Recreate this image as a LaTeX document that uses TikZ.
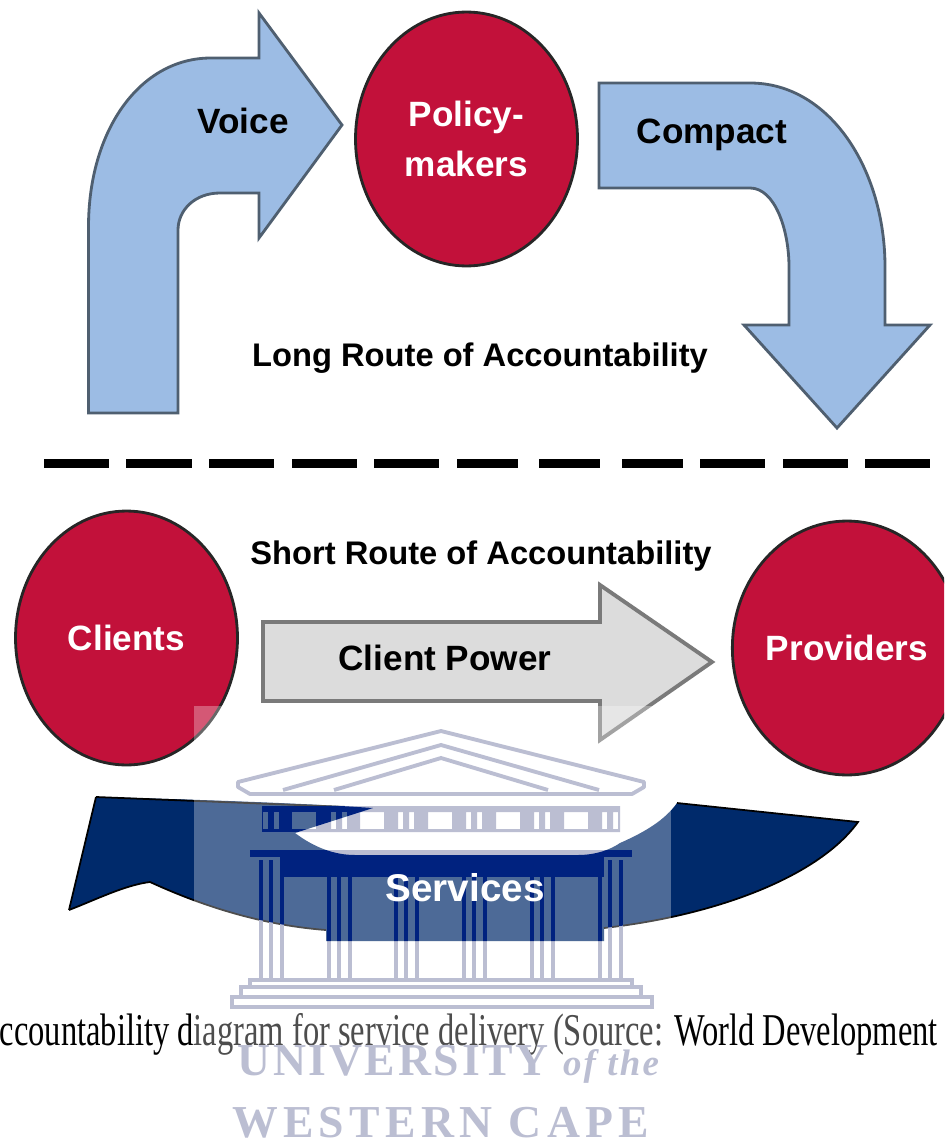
\documentclass[tikz,border=0pt]{standalone}
\usepackage{fontspec}
\setmainfont{Liberation Sans}
\newfontfamily\captionfont{Liberation Serif}
\newfontfamily\crestfont[LetterSpace=6]{Liberation Serif}
\newfontfamily\capefont[LetterSpace=11.5]{Liberation Serif}
\usetikzlibrary{shapes.geometric}
\definecolor{blobred}{HTML}{C2113A}
\definecolor{arrowblue}{HTML}{9CBCE4}
\definecolor{arrowedge}{HTML}{4F5F70}
\definecolor{powergrey}{HTML}{DCDCDC}
\definecolor{poweredge}{HTML}{7A7A7A}
\definecolor{navy}{HTML}{002A6B}
\definecolor{navyband}{HTML}{00227F}
\definecolor{crest}{HTML}{BBBED2}
\tikzset{
  redblob/.style={
    ellipse,
    draw=black!85, line width=1.6pt,
    fill=blobred,
    minimum width=4.44cm,
    minimum height=5.08cm,
    inner sep=0pt,
    text=white, align=center,
    font=\bfseries\fontsize{20}{28.5}\selectfont},
  bentarrow/.style={draw=arrowedge, line width=1.6pt, fill=arrowblue, line join=miter},
  darklabel/.style={font=\bfseries\fontsize{20}{24}\selectfont, text=black},
  routelabel/.style={font=\bfseries\fontsize{18.6}{22}\selectfont, text=black},
  templeline/.style={draw=#1, line width=2.2pt},
}
% the temple, in a given colour
\newcommand{\templeshape}[1]{
  \draw[templeline=#1, line join=round] (250,794) -- (238,787) -- (238,782) -- (441,731) -- (644,782) -- (644,787) -- (632,794) -- cycle;
  \draw[templeline=#1] (283,790) -- (441,745) -- (599,790);
  \draw[templeline=#1] (334,790) -- (441,758) -- (548,790);
  \fill[#1, even odd rule] (262,806) rectangle (620,832)
    foreach \wx in {304,372,440,508,576} {(\wx-12,812) rectangle (\wx+12,829)}
    foreach \cx in {271,339,406,474,542,610} {(\cx-8,812) rectangle (\cx-3,829) (\cx+3,812) rectangle (\cx+8,829)};
  \foreach \cx in {271,339,406,474,542,610}{
    \foreach \dx in {-10,0,11}
      \draw[templeline=#1, line width=2.6pt] (\cx+\dx,860) -- (\cx+\dx,978);
  }
  \fill[#1] (250,850) rectangle (632,857);
  \draw[templeline=#1] (250,980) rectangle (632,987);
  \draw[templeline=#1] (241,987) rectangle (641,997);
  \draw[templeline=#1] (232,997) rectangle (652,1007);
}
\newcommand{\servicespath}{(96,797) .. controls (180,799) and (300,803) .. (373,808) -- (295,833)
  .. controls (315,848) and (335,855) .. (355,855) -- (578,855) .. controls (595,855) and (610,850) .. (620,843)
  .. controls (645,832) and (665,820) .. (677,803) -- (858,822) .. controls (820,875) and (720,915) .. (604,928)
  -- (604,941) -- (326,941) -- (326,930) .. controls (260,925) and (200,905) .. (150,882)
  .. controls (125,885) and (95,900) .. (69,910) -- cycle}
\begin{document}
\begin{tikzpicture}[x=0.02cm,y=-0.02cm]
\clip (0,0) rectangle (944,1142);
\fill[white] (0,0) rectangle (944,1142);

\draw[bentarrow] (88.5,413) -- (88.5,227) .. controls (88.5,130) and (140,58) .. (211,58) -- (259,58) -- (259,13) -- (342,125)
  -- (259,238) -- (259,193) -- (220,193) .. controls (195,193) and (178,210) .. (178,230) -- (178,413) -- cycle;
\draw[bentarrow] (599,83) -- (750,83) .. controls (830,83) and (885,170) .. (885,267) -- (885,325) -- (930,325) -- (837,428)
  -- (744,325) -- (789,325) -- (789,267) .. controls (789,230) and (775,188) .. (750,188) -- (599,188) -- cycle;

\node[redblob] (policy) at (466.5,139) {Policy-\\makers};
\node[redblob] (clients) at (126.5,638) {Clients};
\node[redblob] (providers) at (847,648) {Providers};

\node[darklabel] (voice) at (243,121) {Voice};
\node[darklabel] (compact) at (712,135) {Compact};
\node[routelabel] (longroute) at (480,358) {Long Route of Accountability};
\node[routelabel] (shortroute) at (481,556) {Short Route of Accountability};

\foreach \xa/\xb in {44/109,126/192,209/274,292/357,374/439,457/518,539/600,622/683,700/765,783/848,865/930}
  \fill[black] (\xa,459) rectangle (\xb,468);

\draw[draw=poweredge, fill=powergrey, line width=2.2pt, line join=miter] (263,622) -- (600,622) -- (600,585) -- (712,662)
  -- (600,740) -- (600,701) -- (263,701) -- cycle;
\node[darklabel] (power) at (445,658) {Client Power};

\fill[navy] \servicespath;
\draw[black, line width=1pt] (96,797) -- (373,808) (677,803) -- (858,822) .. controls (820,875) and (720,915) .. (604,928);
\draw[black, line width=1pt] (69,910) -- (96,797) (69,910) .. controls (95,900) and (125,885) .. (150,882) .. controls (200,905) and (260,925) .. (326,930);

\node[anchor=base east, inner sep=0pt, font=\captionfont\fontsize{18.5}{22}\selectfont] (caption) at (938,1045) {\scalebox{1}[1.4]{ccountability diagram for service delivery (Source: World Development}};

% the faded crest lies over everything
\fill[white, opacity=.3] (194,706) rectangle (671,1142);
\templeshape{crest}
\begin{scope}
  \clip \servicespath;
  \fill[navyband] (280,857) rectangle (604,877);
  \templeshape{navyband}
\end{scope}

\node[text=crest, anchor=base west, inner sep=0pt] (university) at (237,1075) {\crestfont\bfseries\fontsize{26}{30}\selectfont UNIVERSITY \itshape\fontsize{21}{30}\selectfont of the};
\node[text=crest, anchor=base west, inner sep=0pt] (cape) at (232,1137) {\capefont\bfseries\fontsize{26}{28}\selectfont WESTERN CAPE};

\node[text=white, font=\bfseries\fontsize{22}{24}\selectfont] (services) at (465,888) {Services};
\end{tikzpicture}
\end{document}
